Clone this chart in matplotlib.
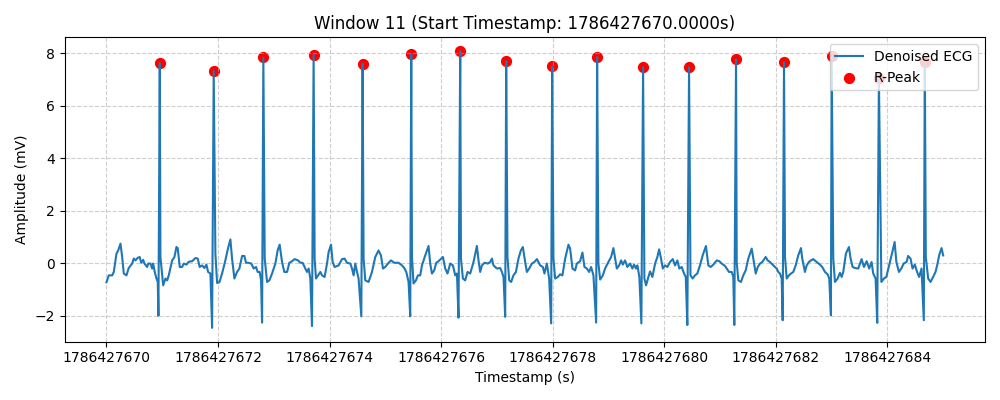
import matplotlib
matplotlib.use("Agg")
import matplotlib.pyplot as plt
import numpy as np

start_ts = 1786427670.0
window_id = 11

# ECG samples (seconds after window start, mV)
ecg_t = [
    0.000, 0.041, 0.102, 0.131, 0.179, 0.210, 0.251, 0.281, 0.310, 0.358, 0.399, 0.460, 0.489, 0.519,
    0.561, 0.596, 0.622, 0.657, 0.681, 0.729, 0.747, 0.788, 0.819, 0.836, 0.865, 0.896, 0.919, 0.931,
    0.955, 0.967, 1.016, 1.057, 1.088, 1.116, 1.177, 1.218, 1.254, 1.277, 1.313, 1.356, 1.385, 1.433,
    1.474, 1.535, 1.594, 1.635, 1.671, 1.714, 1.755, 1.791, 1.822, 1.863, 1.893, 1.922, 1.952, 1.983,
    2.024, 2.072, 2.132, 2.176, 2.221, 2.251, 2.293, 2.341, 2.382, 2.431, 2.472, 2.502, 2.538, 2.597,
    2.638, 2.681, 2.710, 2.746, 2.771, 2.789, 2.812, 2.836, 2.878, 2.920, 2.968, 3.027, 3.068, 3.104,
    3.147, 3.188, 3.237, 3.278, 3.326, 3.373, 3.434, 3.475, 3.516, 3.564, 3.595, 3.624, 3.654, 3.684,
    3.713, 3.731, 3.756, 3.792, 3.833, 3.864, 3.910, 3.953, 3.982, 4.025, 4.054, 4.089, 4.161, 4.222,
    4.268, 4.311, 4.371, 4.401, 4.430, 4.460, 4.491, 4.519, 4.568, 4.591, 4.609, 4.639, 4.698, 4.759,
    4.818, 4.877, 4.920, 4.956, 4.997, 5.057, 5.100, 5.159, 5.236, 5.297, 5.338, 5.374, 5.415, 5.445,
    5.463, 5.476, 5.504, 5.547, 5.583, 5.624, 5.655, 5.714, 5.773, 5.803, 5.834, 5.875, 5.911, 5.952,
    6.031, 6.072, 6.113, 6.162, 6.210, 6.251, 6.282, 6.310, 6.341, 6.354, 6.389, 6.430, 6.472, 6.520,
    6.579, 6.640, 6.669, 6.699, 6.730, 6.776, 6.837, 6.878, 6.909, 6.937, 6.998, 7.057, 7.088, 7.117,
    7.147, 7.165, 7.188, 7.219, 7.254, 7.295, 7.339, 7.385, 7.428, 7.464, 7.505, 7.536, 7.577, 7.625,
    7.672, 7.715, 7.774, 7.822, 7.851, 7.894, 7.935, 7.971, 7.989, 8.012, 8.043, 8.091, 8.132, 8.173,
    8.222, 8.281, 8.311, 8.353, 8.401, 8.431, 8.490, 8.532, 8.568, 8.611, 8.652, 8.687, 8.729, 8.777,
    8.795, 8.818, 8.849, 8.897, 8.938, 8.997, 9.046, 9.087, 9.118, 9.148, 9.189, 9.225, 9.255, 9.296,
    9.337, 9.386, 9.427, 9.457, 9.493, 9.517, 9.552, 9.588, 9.619, 9.642, 9.672, 9.714, 9.744, 9.786,
    9.834, 9.875, 9.906, 9.941, 9.972, 10.013, 10.054, 10.102, 10.151, 10.192, 10.233, 10.269, 10.312,
    10.353, 10.384, 10.412, 10.443, 10.468, 10.508, 10.549, 10.591, 10.639, 10.687, 10.746, 10.788,
    10.831, 10.878, 10.939, 10.985, 11.028, 11.087, 11.118, 11.159, 11.208, 11.236, 11.254, 11.285,
    11.297, 11.326, 11.374, 11.415, 11.458, 11.505, 11.566, 11.594, 11.638, 11.674, 11.715, 11.756,
    11.816, 11.853, 11.893, 11.953, 11.983, 12.014, 12.042, 12.073, 12.103, 12.121, 12.145, 12.163,
    12.193, 12.234, 12.270, 12.311, 12.354, 12.400, 12.449, 12.472, 12.520, 12.551, 12.592, 12.628,
    12.669, 12.730, 12.789, 12.830, 12.879, 12.927, 12.956, 12.986, 12.999, 13.028, 13.058, 13.107,
    13.148, 13.178, 13.207, 13.255, 13.309, 13.339, 13.375, 13.416, 13.475, 13.536, 13.578, 13.626,
    13.672, 13.715, 13.744, 13.787, 13.816, 13.846, 13.890, 13.936, 13.979, 14.038, 14.087, 14.128,
    14.159, 14.205, 14.253, 14.289, 14.342, 14.370, 14.413, 14.449, 14.490, 14.531, 14.567, 14.610,
    14.651, 14.669, 14.687, 14.729, 14.772, 14.818, 14.861, 14.890, 14.926, 14.969, 14.998,
]
ecg_v = [
    -0.72, -0.46, -0.46, -0.33, 0.37, 0.49, 0.75, 0.24, -0.39, -0.46, -0.18, -0.01, 0.18, 0.11,
    0.21, 0.24, 0.02, 0.13, -0.01, -0.14, -0.01, -0.01, -0.20, -0.01, -0.33, -0.58, -0.71, -2.00,
    7.63, 0.24, -0.84, -0.58, -0.65, -0.46, 0.11, 0.24, 0.62, 0.58, -0.14, -0.14, -0.01, -0.05,
    0.06, 0.08, 0.20, 0.18, -0.14, -0.08, -0.18, -0.05, -0.33, -0.39, -2.46, 7.33, 0.37, -0.75,
    -0.72, -0.39, 0.12, 0.55, 0.91, 0.18, -0.58, -0.33, -0.20, 0.28, 0.28, 0.02, 0.02, -0.01,
    -0.20, -0.14, -0.33, -0.33, -0.65, -2.26, 7.84, 0.18, -0.71, -0.65, -0.39, -0.01, 0.49, 0.71,
    0.05, -0.33, -0.33, 0.02, 0.08, 0.16, 0.11, 0.02, 0.02, -0.20, -0.33, -0.20, -0.58, -2.39,
    7.95, 0.18, -0.58, -0.46, -0.33, -0.46, -0.52, -0.01, 0.43, 0.71, 0.05, -0.14, -0.08, 0.16,
    0.18, 0.02, -0.01, -0.20, -0.46, -0.01, -0.33, -0.58, -2.02, 7.61, 0.18, -0.65, -0.71, -0.33,
    0.24, 0.49, 0.30, -0.20, -0.14, 0.02, 0.11, 0.02, 0.02, -0.08, -0.18, -0.33, -0.71, -2.02,
    7.96, 0.24, -0.77, -0.65, -0.46, -0.46, -0.08, 0.30, 0.66, -0.01, -0.39, -0.27, 0.02, 0.08,
    0.24, -0.20, -0.39, -0.01, -0.08, -0.46, -0.39, -2.07, 8.08, 0.18, -0.58, -0.65, -0.33, -0.39,
    0.05, 0.66, 0.11, -0.33, -0.08, 0.02, -0.01, 0.05, 0.18, -0.08, -0.20, -0.18, -0.33, -0.52,
    -2.04, 7.70, 0.24, -0.65, -0.71, -0.46, -0.33, 0.18, 0.49, 0.62, 0.05, -0.33, -0.20, -0.01,
    0.05, 0.16, -0.08, -0.14, -0.39, -0.01, -0.58, -2.29, 7.50, 0.18, -0.58, -0.52, -0.42, -0.46,
    0.18, 0.71, 0.56, -0.20, -0.27, -0.01, 0.08, 0.41, -0.14, -0.20, -0.33, -0.14, -0.46, -2.26,
    7.85, -0.01, -0.62, -0.46, -0.20, 0.05, 0.24, 0.58, 0.18, -0.20, -0.08, 0.11, -0.05, 0.11,
    -0.14, -0.01, -0.20, -0.05, -0.20, -0.08, -0.52, -2.29, 7.47, -0.58, -0.84, -0.52, -0.31, -0.52,
    -0.01, 0.24, 0.53, 0.18, -0.20, -0.08, -0.14, 0.05, 0.16, -0.08, 0.11, -0.20, -0.14,
    -0.39, -0.52, -2.35, 7.47, -0.46, -0.58, -0.46, -0.39, -0.08, 0.30, 0.66, -0.08,
    -0.14, -0.05, 0.11, 0.08, -0.01, -0.10, -0.20, -0.33, -0.33, -0.52, -2.35, 7.77,
    0.05, -0.65, -0.71, -0.46, -0.27, 0.18, 0.56, 0.18, -0.39, -0.14, -0.01, 0.05,
    0.24, 0.11, 0.05, -0.08, -0.14, -0.20, -0.33, -0.39, -0.58, -2.17, 7.65, 0.24,
    -0.58, -0.46, -0.39, -0.33, -0.08, 0.30, 0.58, 0.18, -0.33, -0.08, 0.05, 0.11,
    0.16, 0.05, -0.05, -0.14, -0.33, -0.42, -0.58, -1.98, 7.89, 0.18, -0.71, -0.58,
    -0.36, -0.52, -0.33, 0.37, 0.62, 0.18, -0.14, -0.18, -0.20, 0.16, -0.14, 0.08,
    -0.20, 0.05, -0.39, -0.58, -2.27, 7.05, -0.71, -0.58, -0.52, -0.01, 0.43, 0.81,
    0.05, -0.33, -0.18, -0.01, 0.05, 0.28, 0.18, -0.20, -0.05, -0.33, -0.52, -0.20,
    -2.17, 7.67, 0.24, -0.58, -0.71, -0.52, -0.33, -0.08, 0.30, 0.58, 0.30,
]

# detected R-peaks (seconds after window start, mV)
r_t = [0.955, 1.922, 2.812, 3.713, 4.591, 5.463, 6.341, 7.165, 7.989, 8.795,
       9.619, 10.443, 11.285, 12.145, 12.999, 13.846, 14.669]
r_v = [7.63, 7.33, 7.84, 7.95, 7.61, 7.96, 8.08, 7.70, 7.50, 7.85,
       7.47, 7.47, 7.77, 7.65, 7.89, 7.05, 7.67]

x = start_ts + np.array(ecg_t)
xr = start_ts + np.array(r_t)

fig, ax = plt.subplots(figsize=(10, 4), dpi=100)
ax.plot(x, ecg_v, label="Denoised ECG", color="#1f77b4", linewidth=1.5)
ax.scatter(xr, r_v, color="red", s=50, label="R-Peak")
ax.set_title(f"Window {window_id} (Start Timestamp: {start_ts:.4f}s)")
ax.set_xlabel("Timestamp (s)")
ax.set_ylabel("Amplitude (mV)")
ax.ticklabel_format(axis="x", useOffset=False, style="plain")
ax.grid(True, linestyle="--", alpha=0.6)
ax.legend(loc="upper right")
fig.tight_layout()
fig.savefig("out.png")
